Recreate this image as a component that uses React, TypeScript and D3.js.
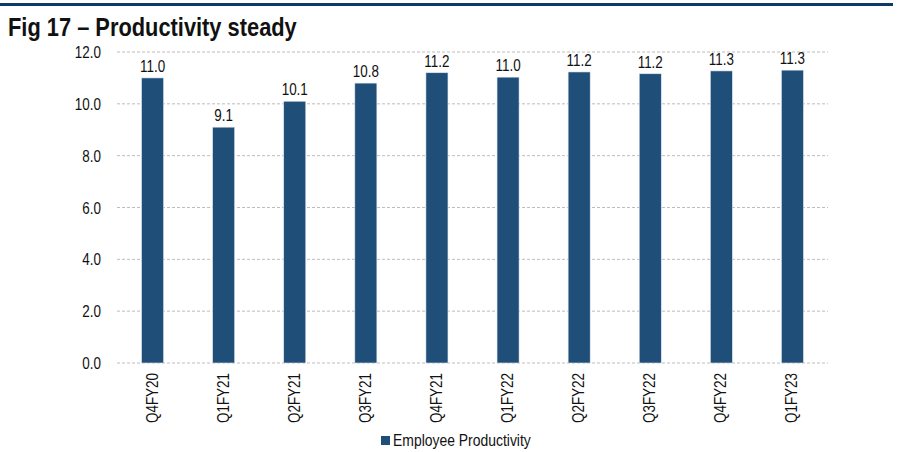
import React from "react";
import * as d3 from "d3";

const categories = ["Q4FY20", "Q1FY21", "Q2FY21", "Q3FY21", "Q4FY21", "Q1FY22", "Q2FY22", "Q3FY22", "Q4FY22", "Q1FY23"];
const productivity = [11.0, 9.1, 10.1, 10.8, 11.2, 11.03, 11.23, 11.16, 11.27, 11.3];
const yTicks = [0, 2, 4, 6, 8, 10, 12];
const seriesName = "Employee Productivity";

const W = 899, H = 452;
const FONT = "'Liberation Sans', Arial, sans-serif";
const BAR = "#1f4e79";
const SX = 0.84; // squeeze to look like Arial Narrow

// narrow-looking text: scale horizontally around its anchor point
function NText(props: { x: number; y: number; size: number; anchor?: string; rotate?: number; bold?: boolean; children: React.ReactNode }) {
  const { x, y, size, anchor = "start", rotate = 0, bold = false, children } = props;
  return (
    <text
      transform={`translate(${x},${y}) rotate(${rotate}) scale(${SX},1)`}
      textAnchor={anchor}
      fontSize={size}
      fontWeight={bold ? "bold" : "normal"}
      fill="#111"
    >
      {children}
    </text>
  );
}

export default function App() {
  const margin = { left: 117, right: 71, top: 52, bottom: 89 };

  const x = d3.scaleBand<string>()
    .domain(categories)
    .range([margin.left, W - margin.right])
    .paddingInner(0.69)
    .paddingOuter(0.345);

  const y = d3.scaleLinear().domain([0, 12]).range([H - margin.bottom, margin.top]);

  return (
    <svg width={W} height={H} style={{ position: "absolute", left: 0, top: 0, background: "#fff" }} fontFamily={FONT}>
      <rect x={0} y={3} width={893} height={3} fill="#0b3a6b" />
      <NText x={8} y={36} size={26} bold>Fig 17 – Productivity steady</NText>

      {yTicks.map(t => (
        <g key={t}>
          <line x1={margin.left} x2={W - margin.right} y1={y(t)} y2={y(t)} stroke="#bdbdbd" strokeDasharray="3,2" strokeWidth={1} />
          <NText x={101} y={y(t) + 6} anchor="end" size={16}>{t.toFixed(1)}</NText>
        </g>
      ))}

      {categories.map((c, i) => {
        const v = productivity[i];
        const bx = x(c)!;
        const cx = bx + x.bandwidth() / 2;
        return (
          <g key={c}>
            <rect x={bx} y={y(v)} width={x.bandwidth()} height={y(0) - y(v)} fill={BAR} stroke="#dfe7ef" strokeWidth={0.6} />
            <NText x={cx} y={y(v) - 6} anchor="middle" size={16}>{v.toFixed(1)}</NText>
            <NText x={cx + 5} y={y(0) + 10} anchor="end" rotate={-90} size={16}>{c}</NText>
          </g>
        );
      })}

      <rect x={381} y={436} width={9} height={9} fill={BAR} />
      <NText x={393} y={446} size={16.6}>{seriesName}</NText>
    </svg>
  );
}
